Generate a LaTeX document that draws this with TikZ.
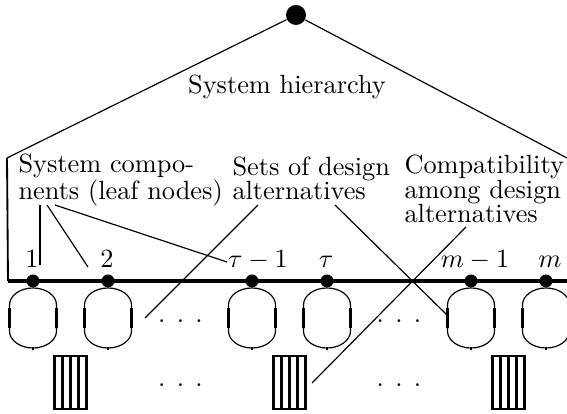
\documentclass[tikz,border=0pt]{standalone}
\begin{document}
\begin{tikzpicture}[x=0.38pt,y=-0.38pt,
  lbl/.style={font=\fontsize{10}{9.4}\selectfont, align=left, inner sep=0pt},
  num/.style={font=\fontsize{10}{12}\selectfont, inner sep=0pt, anchor=base},
  leaf/.style={circle, fill, inner sep=0pt, minimum size=4.94pt},
  rootnode/.style={circle, fill, inner sep=0pt, minimum size=7.6pt},
  thin/.style={line width=0.45pt},
  conn/.style={line width=0.45pt},
  thickside/.style={line width=1.2pt},
  basel/.style={line width=1.5pt},
  boxline/.style={line width=0.9pt}]
\useasboundingbox (0,0) rectangle (567,414);

% hierarchy
\node[rootnode] (root) at (296,15) {};
\coordinate (lc) at (7,158);
\coordinate (rc) at (567,158);
\coordinate (bl) at (8,281);
\coordinate (br) at (567,281);
\draw[thin] (root) -- (lc);
\draw[thin] (root) -- (rc);
\draw[line width=0.7pt] (lc) -- (bl);
\draw[basel] (bl) -- (br);

\node[lbl, anchor=base] (hier) at (287,94) {System hierarchy};

% leaves
\node[leaf] (l1) at (33,281) {};
\node[leaf] (l2) at (108,281) {};
\node[leaf] (l3) at (252,281) {};
\node[leaf] (l4) at (327,281) {};
\node[leaf] (l5) at (471,281) {};
\node[leaf] (l6) at (546,281) {};

\node[num] (n1) at (32,268) {$1$};
\node[num] (n2) at (107,268) {$2$};
\node[num] (n3) at (258,268) {$\tau-1$};
\node[num] (n4) at (326,268) {$\tau$};
\node[num] (n5) at (475,268) {$m-1$};
\node[num] (n6) at (550,268) {$m$};

% stadiums
\foreach \cx in {33,108,252,327,471,546}{
  \draw[thin] (\cx-23.5,308) -- (\cx-23.5,305)
     arc[start angle=180, end angle=360, x radius=23.5, y radius=17]
     -- (\cx+23.5,308);
  \draw[thin] (\cx+23.5,328) -- (\cx+23.5,331)
     arc[start angle=0, end angle=180, x radius=23.5, y radius=17]
     -- (\cx-23.5,328);
  \draw[thickside] (\cx-23.5,308) -- (\cx-23.5,328);
  \draw[thickside] (\cx+23.5,308) -- (\cx+23.5,328);
  \draw[line width=0.8pt] (\cx,347) -- (\cx,350);
}

% boxes of alternatives
\foreach \bx in {70.5,289.5,508.5}{
  \draw[boxline] (\bx-16,356) rectangle (\bx+16,409);
  \draw[boxline] (\bx-8,356) -- (\bx-8,409);
  \draw[boxline] (\bx,356) -- (\bx,409);
  \draw[boxline] (\bx+8,356) -- (\bx+8,409);
}

% ellipses
\node[num] (d1) at (180.5,322.5) {.\hspace{4.3pt}.\hspace{4.3pt}.};
\node[num] (d2) at (180.5,386.5) {.\hspace{4.3pt}.\hspace{4.3pt}.};
\node[num] (d3) at (399,322.5) {.\hspace{4.3pt}.\hspace{4.3pt}.};
\node[num] (d4) at (399,386.5) {.\hspace{4.3pt}.\hspace{4.3pt}.};

% labels (base anchor = baseline of last line)
\node[lbl, anchor=base west] (comp) at (18,200) {System compo-\\nents (leaf nodes)};
\node[lbl, anchor=base west] (sets) at (232,200) {Sets of design\\alternatives};
\node[lbl, anchor=base west] (compat) at (404,223) {Compatibility\\among design\\alternatives};

% connectors
\coordinate (ca) at (40,205);
\coordinate (ca2) at (40,265);
\coordinate (cb) at (47,205);
\coordinate (cb2) at (88,267);
\coordinate (cc) at (55,205);
\coordinate (cc2) at (227,262);
\coordinate (sa) at (258,205);
\coordinate (sa2) at (145,318);
\coordinate (sb) at (335,205);
\coordinate (sb2) at (447,315);
\coordinate (pa) at (466,227);
\coordinate (pa2) at (312,383);
\draw[line width=0.7pt] (ca) -- (ca2);
\draw[conn] (cb) -- (cb2);
\draw[conn] (cc) -- (cc2);
\draw[conn] (sa) -- (sa2);
\draw[conn] (sb) -- (sb2);
\draw[conn] (pa) -- (pa2);
\end{tikzpicture}
\end{document}
